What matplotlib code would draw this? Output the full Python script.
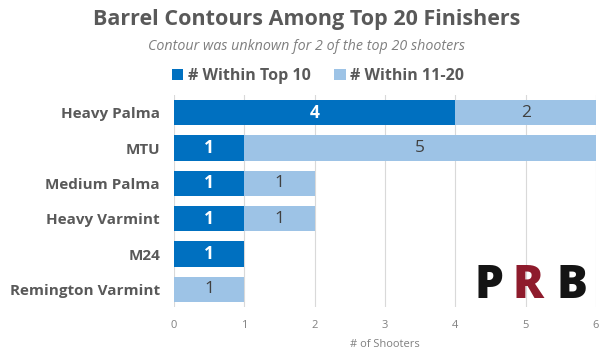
import matplotlib
matplotlib.use("Agg")
import matplotlib.pyplot as plt
import numpy as np

categories = ["Heavy Palma", "MTU", "Medium Palma", "Heavy Varmint", "M24", "Remington Varmint"]
top10 = [4, 1, 1, 1, 1, 0]
top11_20 = [2, 5, 1, 1, 0, 1]
series_names = ["# Within Top 10", "# Within 11-20"]
xticks = [0, 1, 2, 3, 4, 5, 6]

plt.rcParams['font.family'] = ['Open Sans', 'DejaVu Sans']
DARK = "#0070C0"
LIGHT = "#9DC3E6"
TXT = "#595959"

fig = plt.figure(figsize=(6.14, 3.52), dpi=100)
ax = fig.add_axes([174/614, 1-307/352, (596-174)/614, 212/352])

y = np.arange(len(categories))
b1 = ax.barh(y, top10, height=0.72, color=DARK, label=series_names[0], zorder=3)
b2 = ax.barh(y, top11_20, left=top10, height=0.72, color=LIGHT, label=series_names[1], zorder=3)

for i in range(len(categories)):
    if top10[i] > 0:
        ax.text(top10[i] / 2, y[i], str(top10[i]), ha="center", va="center",
                color="white", fontsize=12.5, fontweight="bold", zorder=4)
    if top11_20[i] > 0:
        ax.text(top10[i] + top11_20[i] / 2, y[i], str(top11_20[i]), ha="center", va="center",
                color="#404040", fontsize=12.5, zorder=4)

ax.set_ylim(len(categories) - 0.5, -0.5)
ax.set_xlim(0, 6)
ax.set_xticks(xticks)
ax.set_yticks(y)
ax.set_yticklabels(categories, fontsize=11, fontweight="bold", color=TXT)
ax.tick_params(axis="x", labelsize=8, colors="#808080", length=0, pad=9)
ax.tick_params(axis="y", length=0, pad=10)
ax.grid(axis="x", color="#D9D9D9", linewidth=0.8, zorder=0)
for s in ax.spines.values():
    s.set_visible(False)
ax.set_xlabel("# of Shooters", fontsize=8, color="#808080", labelpad=6)

fig.text(0.5, 1-20/352, "Barrel Contours Among Top 20 Finishers", ha="center", va="center",
         fontsize=15.5, fontweight="bold", color=TXT)
fig.text(0.5, 1-46/352, "Contour was unknown for 2 of the top 20 shooters", ha="center", va="center",
         fontsize=10.3, style="italic", color="#7F7F7F")

leg = fig.legend(handles=[b1, b2], loc="center", bbox_to_anchor=(0.518, 1-76/352), ncol=2,
                 frameon=False, fontsize=11.5, handlelength=0.7, handleheight=0.7,
                 handletextpad=0.3, columnspacing=1.5)
for t in leg.get_texts():
    t.set_color(TXT)
    t.set_fontweight("bold")

# logo text
fig.text(474/614, 1-286/352, "P", ha="left", va="center", fontsize=33, fontweight="heavy", color="#141414")
fig.text(513/614, 1-286/352, "R", ha="left", va="center", fontsize=33, fontweight="heavy", color="#8E1B2C")
fig.text(556/614, 1-286/352, "B", ha="left", va="center", fontsize=33, fontweight="heavy", color="#141414")

fig.savefig("out.png", dpi=100)
